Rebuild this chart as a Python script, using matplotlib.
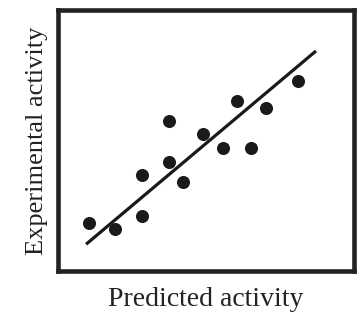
import matplotlib.pyplot as plt

# predicted vs experimental activity (arbitrary units, 0-100)
predicted = [10.5, 19.3, 28.4, 28.4, 37.5, 37.5, 42.1, 49.1, 55.8, 60.6, 65.1, 70.3, 81.2]
experimental = [18.4, 15.8, 21.0, 36.7, 41.8, 57.5, 34.2, 52.4, 47.2, 65.3, 47.2, 62.4, 73.0]

# regression line end points
fit_x = [9.5, 87.2]
fit_y = [10.1, 84.4]

plt.rcParams["font.family"] = ["Liberation Serif", "DejaVu Serif"]

fig = plt.figure(figsize=(3.6, 3.24), dpi=100)
ax = fig.add_axes([0.161, 0.165, 0.822, 0.803])

ax.plot(fit_x, fit_y, color="#1a1a1a", linewidth=2.3, solid_capstyle="butt", zorder=2)
ax.plot(predicted, experimental, "o", color="#1a1a1a", markersize=9.4,
        markeredgewidth=0, zorder=3)

ax.set_xlim(0, 100)
ax.set_ylim(0, 100)
ax.set_xticks([])
ax.set_yticks([])
for spine in ax.spines.values():
    spine.set_linewidth(3.3)
    spine.set_color("#222222")

ax.set_xlabel("Predicted activity", fontsize=20, color="#222222", labelpad=12)
ax.set_ylabel("Experimental activity", fontsize=19, color="#222222", labelpad=7)

fig.savefig("out.png", dpi=100)
